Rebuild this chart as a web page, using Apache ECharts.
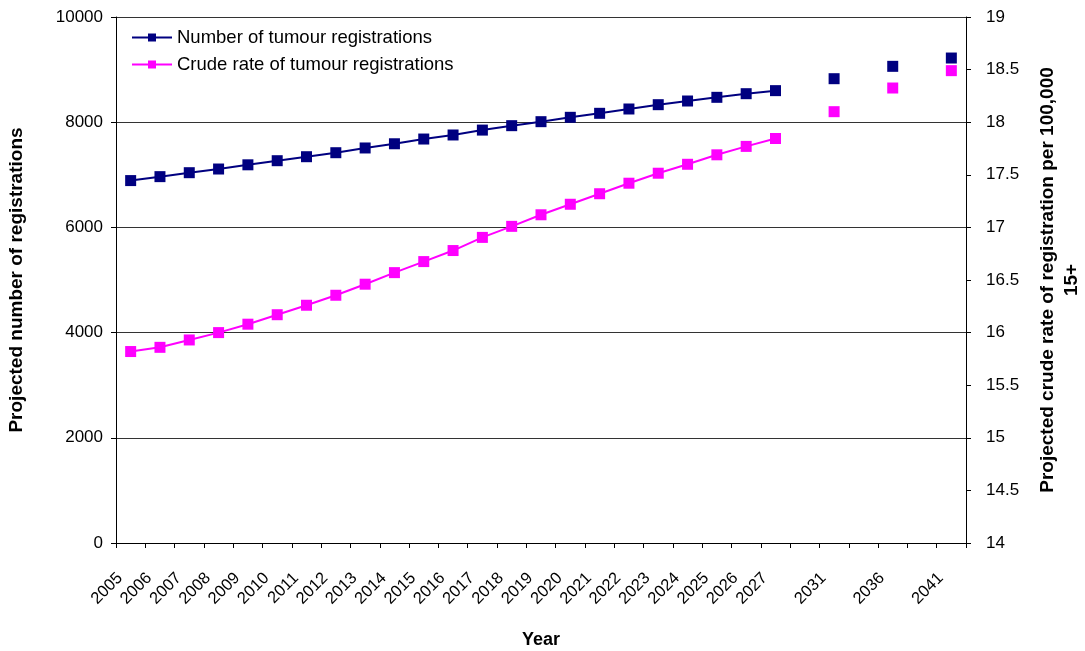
<!DOCTYPE html>
<html>
<head>
<meta charset="utf-8">
<script src="https://cdn.jsdelivr.net/npm/echarts@6/dist/echarts.min.js"></script>
<style>
html,body{margin:0;padding:0;background:#fff;}
#chart{width:1085px;height:651px;}
</style>
</head>
<body>
<div id="chart"></div>
<script>
// Categories (blank entries are gaps between projection years)
var categories = ['2005','2006','2007','2008','2009','2010','2011','2012','2013','2014','2015','2016','2017','2018','2019','2020','2021','2022','2023','2024','2025','2026','2027','','2031','','2036','','2041'];
// Number of tumour registrations (left axis)
var numberRegistrations = [6890,6965,7040,7110,7190,7268,7344,7420,7510,7590,7680,7757,7850,7934,8010,8093,8169,8251,8333,8403,8473,8542,8600,null,8827,null,9062,null,9220];
// Crude rate of tumour registrations per 100,000 15+ (right axis)
var crudeRate = [15.82,15.86,15.93,16.00,16.08,16.17,16.26,16.355,16.46,16.57,16.675,16.78,16.905,17.01,17.12,17.22,17.32,17.42,17.515,17.60,17.69,17.77,17.845,null,18.10,null,18.325,null,18.49];
// Tick settings
var leftTicks = {min:0, max:10000, interval:2000};
var rightTicks = {min:14, max:19, interval:0.5};

var chart = echarts.init(document.getElementById('chart'));
var font = 'Liberation Sans, Arial, sans-serif';
chart.setOption({
  animation:false,
  backgroundColor:'#fff',
  textStyle:{fontFamily:font},
  grid:{left:116, right:119, top:17, bottom:108, containLabel:false, outerBoundsMode:'none'},
  legend:{
    orient:'vertical', left:126, top:23, itemGap:8,
    itemWidth:40, itemHeight:10,
    textStyle:{fontSize:18.5, color:'#000', fontFamily:font},
    data:['Number of tumour registrations','Crude rate of tumour registrations']
  },
  xAxis:{
    type:'category', data:categories, boundaryGap:true,
    name:'Year', nameLocation:'middle', nameGap:88,
    nameTextStyle:{fontSize:18, fontWeight:'bold', color:'#000', fontFamily:font},
    axisLine:{lineStyle:{color:'#000', width:1}},
    axisTick:{show:true, alignWithLabel:false, interval:0, length:5, lineStyle:{color:'#000'}},
    axisLabel:{interval:0, rotate:45, fontSize:16.5, color:'#000', margin:22, padding:[0,15,0,0], fontFamily:font},
    splitLine:{show:false}
  },
  yAxis:[{
    type:'value', min:leftTicks.min, max:leftTicks.max, interval:leftTicks.interval,
    position:'left',
    name:'Projected number of registrations', nameLocation:'middle', nameGap:90, nameRotate:90,
    nameTextStyle:{fontSize:19, fontWeight:'bold', color:'#000', fontFamily:font},
    axisLine:{show:true, lineStyle:{color:'#000'}},
    axisTick:{show:true, length:5, lineStyle:{color:'#000'}},
    axisLabel:{fontSize:17, color:'#000', margin:13, fontFamily:font, formatter:function(v){return String(v);}},
    splitLine:{show:true, lineStyle:{color:'#333', width:1}}
  },{
    type:'value', min:rightTicks.min, max:rightTicks.max, interval:rightTicks.interval,
    position:'right',
    name:'Projected crude rate of registration per 100,000\n15+', nameLocation:'middle', nameGap:70, nameRotate:90,
    nameTextStyle:{fontSize:19, fontWeight:'bold', color:'#000', fontFamily:font, lineHeight:24, align:'center'},
    axisLine:{show:true, lineStyle:{color:'#000'}},
    axisTick:{show:true, length:5, lineStyle:{color:'#000'}},
    axisLabel:{fontSize:17, color:'#000', margin:20, fontFamily:font, formatter:function(v){return String(v);}},
    splitLine:{show:false}
  }],
  series:[{
    name:'Number of tumour registrations', type:'line', yAxisIndex:0,
    data:numberRegistrations, connectNulls:false,
    symbol:'rect', symbolSize:11, showSymbol:true, showAllSymbol:true,
    lineStyle:{color:'#000080', width:2},
    itemStyle:{color:'#000080'}
  },{
    name:'Crude rate of tumour registrations', type:'line', yAxisIndex:1,
    data:crudeRate, connectNulls:false,
    symbol:'rect', symbolSize:11, showSymbol:true, showAllSymbol:true,
    lineStyle:{color:'#FF00FF', width:2},
    itemStyle:{color:'#FF00FF'}
  }]
});
</script>
</body>
</html>
